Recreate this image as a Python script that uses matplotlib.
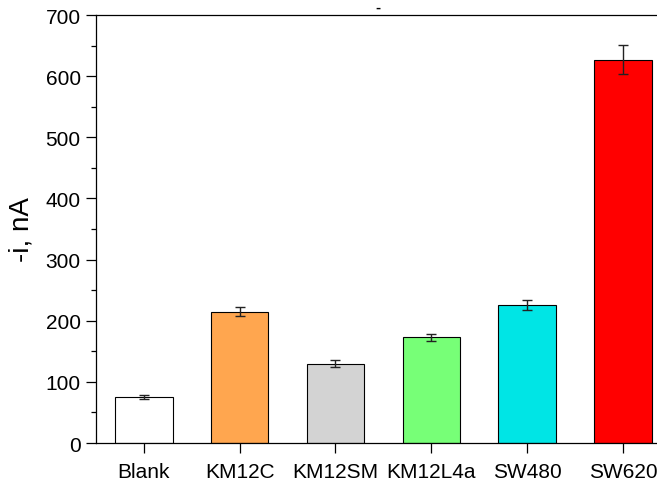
import matplotlib
matplotlib.use("Agg")
import matplotlib.pyplot as plt
import numpy as np
from matplotlib.ticker import MultipleLocator

plt.rcParams['font.family'] = ['Liberation Sans', 'DejaVu Sans']

# data
samples = ['Blank', 'KM12C', 'KM12SM', 'KM12L4a', 'SW480', 'SW620']
current = [75, 215, 130, 173, 226, 627]
current_err = [3, 8, 5, 6, 8, 24]
bar_colors = ['#FFFFFF', '#FFA64F', '#D3D3D3', '#77FF77', '#00E5E5', '#FF0000']

fig = plt.figure(figsize=(6.57, 4.85), dpi=100)
ax = fig.add_axes([0.146, 0.0845, 0.854, 0.8825])

x = np.arange(len(samples))
ax.bar(x, current, width=0.6, color=bar_colors, edgecolor='black', linewidth=0.8,
       yerr=current_err, capsize=3.6,
       error_kw=dict(ecolor='#222222', elinewidth=1.0, capthick=1.0))

ax.set_xlim(-0.50, 5.355)
ax.set_ylim(0, 700)
ax.set_xticks(x)
ax.set_xticklabels(samples)
ax.yaxis.set_major_locator(MultipleLocator(100))
ax.yaxis.set_minor_locator(MultipleLocator(50))

ax.spines['right'].set_visible(False)
for s in ['left', 'bottom', 'top']:
    ax.spines[s].set_linewidth(0.9)

ax.tick_params(axis='both', which='major', direction='out', length=7, width=0.9,
               labelsize=15, pad=4)
ax.tick_params(axis='y', which='minor', direction='out', length=3.5, width=0.9)
ax.tick_params(axis='x', pad=7)

ax.set_ylabel('-i, nA', fontsize=20, labelpad=8)

# title remnant at the top of the figure
fig.text(0.575, 0.985, '-', ha='center', va='center', fontsize=11, fontweight='bold')

fig.savefig('out.png', dpi=100)
